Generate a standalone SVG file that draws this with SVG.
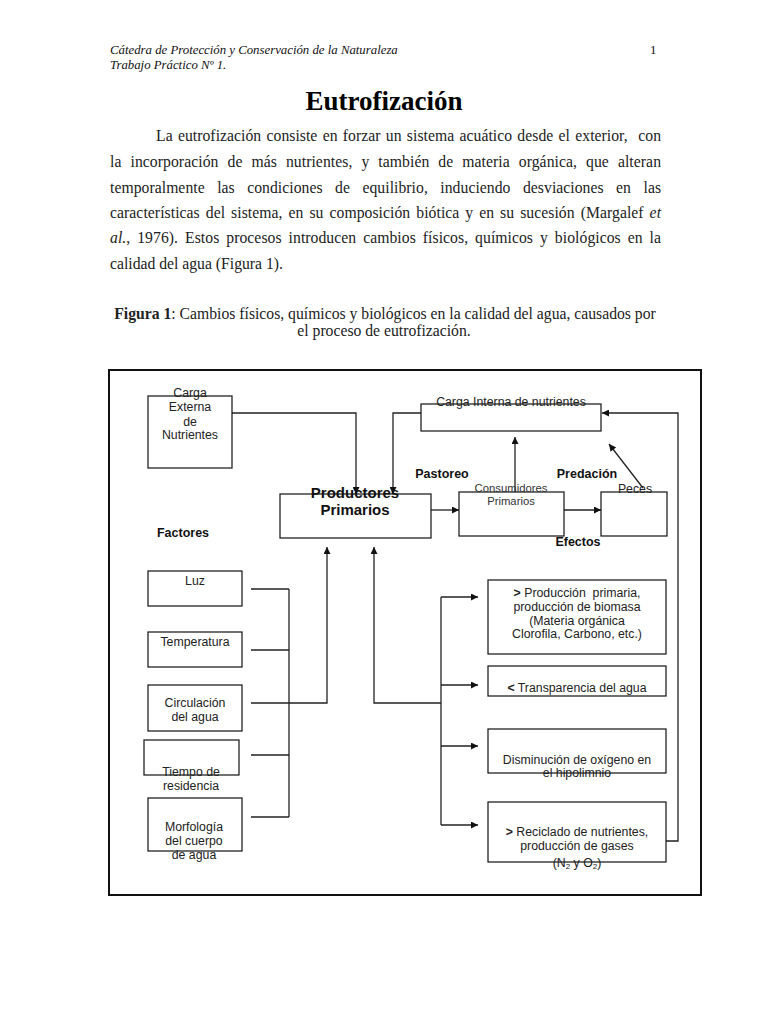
<svg xmlns="http://www.w3.org/2000/svg" width="768" height="1024" viewBox="0 0 768 1024">
<defs>
<marker id="ah" viewBox="0 0 10 10" refX="10" refY="5" markerWidth="9" markerHeight="7" markerUnits="userSpaceOnUse" orient="auto"><path d="M0,0 L10,5 L0,10 z" fill="#111"/></marker>
<style>
.hdr{font-family:"Liberation Serif",serif;font-style:italic;font-size:12.8px;fill:#111}
.title{font-family:"Liberation Serif",serif;font-weight:bold;font-size:27px;fill:#000;text-anchor:middle}
.body{font-family:"Liberation Serif",serif;font-size:15.7px;fill:#222}
.cap{font-family:"Liberation Serif",serif;font-size:15.7px;fill:#222;text-anchor:middle}
.box{fill:#fff;stroke:#111;stroke-width:1.2}
.t{font-family:"Liberation Sans",Arial,sans-serif;font-size:12.3px;fill:#222;text-anchor:middle}
.ts{font-family:"Liberation Sans",Arial,sans-serif;font-size:11.3px;fill:#333;text-anchor:middle}
.b{font-family:"Liberation Sans",Arial,sans-serif;font-size:12.5px;font-weight:bold;fill:#111;text-anchor:middle}
.bp{font-family:"Liberation Sans",Arial,sans-serif;font-size:15px;font-weight:bold;fill:#111;text-anchor:middle}
.ln{fill:none;stroke:#222;stroke-width:1.3}
.la{fill:none;stroke:#222;stroke-width:1.3;marker-end:url(#ah)}
</style>
</defs>
<rect width="768" height="1024" fill="#fff"/>

<g id="header">
<text class="hdr" x="110" y="54">Cátedra de Protección y Conservación de la Naturaleza</text>
<text class="hdr" x="110" y="68.5">Trabajo Práctico Nº 1.</text>
<text class="hdr" x="650" y="54" style="font-style:normal">1</text>
</g>
<text class="title" x="384" y="110">Eutrofización</text>

<g id="bodytext">
<text class="body" x="156" y="141" textLength="505" lengthAdjust="spacing" word-spacing="1.3">La eutrofización consiste en forzar un sistema acuático desde el exterior,&#160; con</text>
<text class="body" x="110" y="167" textLength="551" lengthAdjust="spacing" word-spacing="5">la incorporación de más nutrientes, y también de materia orgánica, que alteran</text>
<text class="body" x="110" y="193" textLength="551" lengthAdjust="spacing" word-spacing="8.5">temporalmente las condiciones de equilibrio, induciendo desviaciones en las</text>
<text class="body" x="110" y="218" textLength="551" lengthAdjust="spacing" word-spacing="2">características del sistema, en su composición biótica y en su sucesión (Margalef <tspan font-style="italic">et</tspan></text>
<text class="body" x="110" y="243" textLength="551" lengthAdjust="spacing" word-spacing="3"><tspan font-style="italic">al.</tspan>, 1976). Estos procesos introducen cambios físicos, químicos y biológicos en la</text>
<text class="body" x="110" y="269">calidad del agua (Figura 1).</text>
</g>

<g id="caption">
<text class="cap" x="385" y="319"><tspan font-weight="bold">Figura 1</tspan>: Cambios físicos, químicos y biológicos en la calidad del agua, causados por</text>
<text class="cap" x="384" y="336">el proceso de eutrofización.</text>
</g>

<rect id="frame" x="109" y="370" width="592" height="525" fill="none" stroke="#111" stroke-width="2"/>

<g id="connectors">
<polyline class="la" points="232,413 356,413 356,494"/>
<polyline class="la" points="421,413 393,413 393,494"/>
<line class="la" x1="515" y1="492" x2="515" y2="437"/>
<line class="la" x1="431" y1="510" x2="459" y2="510"/>
<line class="la" x1="564" y1="510" x2="601" y2="510"/>
<line class="la" x1="643" y1="488" x2="609" y2="444"/>
<polyline class="la" points="666,841 678,841 678,413 602,413"/>
<line class="ln" x1="251" y1="589" x2="289" y2="589"/>
<line class="ln" x1="251" y1="650" x2="289" y2="650"/>
<line class="ln" x1="251" y1="755" x2="289" y2="755"/>
<line class="ln" x1="251" y1="817" x2="289" y2="817"/>
<line class="ln" x1="289" y1="589" x2="289" y2="817"/>
<polyline class="la" points="251,703 327,703 327,547"/>
<polyline class="la" points="441,703 374,703 374,547"/>
<line class="ln" x1="441" y1="597" x2="441" y2="825"/>
<line class="la" x1="441" y1="597" x2="478" y2="597"/>
<line class="la" x1="441" y1="685" x2="478" y2="685"/>
<line class="la" x1="441" y1="746" x2="478" y2="746"/>
<line class="la" x1="441" y1="825" x2="478" y2="825"/>
</g>

<g id="carga-externa">
<rect class="box" x="148" y="396" width="84" height="72"/>
<text class="t" x="190" y="397">Carga</text>
<text class="t" x="190" y="411">Externa</text>
<text class="t" x="190" y="426">de</text>
<text class="t" x="190" y="439">Nutrientes</text>
</g>

<g id="carga-interna">
<rect class="box" x="421" y="404" width="180" height="27"/>
<text class="t" x="511" y="406">Carga Interna de nutrientes</text>
</g>

<g id="productores">
<rect class="box" x="280" y="494" width="151" height="44"/>
<text class="bp" x="355" y="498">Productores</text>
<text class="bp" x="355" y="515">Primarios</text>
</g>

<g id="consumidores">
<rect class="box" x="459" y="492" width="105" height="44"/>
<text class="ts" x="511" y="492">Consumidores</text>
<text class="ts" x="511" y="505">Primarios</text>
</g>

<g id="peces">
<rect class="box" x="601" y="492" width="66" height="44"/>
<text class="t" x="635" y="493">Peces</text>
</g>

<g id="labels">
<text class="b" x="442" y="478">Pastoreo</text>
<text class="b" x="587" y="478">Predación</text>
<text class="b" x="578" y="546">Efectos</text>
<text class="b" x="183" y="537">Factores</text>
</g>

<g id="luz">
<rect class="box" x="148" y="571" width="94" height="35"/>
<text class="t" x="195" y="585">Luz</text>
</g>
<g id="temperatura">
<rect class="box" x="148" y="632" width="94" height="35"/>
<text class="t" x="195" y="646">Temperatura</text>
</g>
<g id="circulacion">
<rect class="box" x="148" y="685" width="94" height="46"/>
<text class="t" x="195" y="707">Circulación</text>
<text class="t" x="195" y="721">del agua</text>
</g>
<g id="tiempo">
<rect class="box" x="144" y="740" width="95" height="35"/>
<text class="t" x="191" y="776">Tiempo de</text>
<text class="t" x="191" y="790">residencia</text>
</g>
<g id="morfologia">
<rect class="box" x="148" y="798" width="94" height="53"/>
<text class="t" x="194" y="831">Morfología</text>
<text class="t" x="194" y="845">del cuerpo</text>
<text class="t" x="194" y="859">de agua</text>
</g>

<g id="produccion">
<rect class="box" x="488" y="580" width="178" height="74"/>
<text class="t" x="577" y="597"><tspan font-weight="bold">&gt;</tspan> Producción&#160; primaria,</text>
<text class="t" x="577" y="611">producción de biomasa</text>
<text class="t" x="577" y="625">(Materia orgánica</text>
<text class="t" x="577" y="638">Clorofila, Carbono, etc.)</text>
</g>
<g id="transparencia">
<rect class="box" x="488" y="666" width="178" height="30"/>
<text class="t" x="577" y="692"><tspan font-weight="bold">&lt;</tspan> Transparencia del agua</text>
</g>
<g id="oxigeno">
<rect class="box" x="488" y="729" width="178" height="44"/>
<text class="t" x="577" y="764">Disminución de oxígeno en</text>
<text class="t" x="577" y="777">el hipolimnio</text>
</g>
<g id="reciclado">
<rect class="box" x="488" y="802" width="178" height="60"/>
<text class="t" x="577" y="836"><tspan font-weight="bold">&gt;</tspan> Reciclado de nutrientes,</text>
<text class="t" x="577" y="850">producción de gases</text>
<text class="t" x="577" y="867">(N<tspan font-size="8" dy="2">2</tspan><tspan dy="-2"> y O</tspan><tspan font-size="8" dy="2">2</tspan><tspan dy="-2">)</tspan></text>
</g>
</svg>
